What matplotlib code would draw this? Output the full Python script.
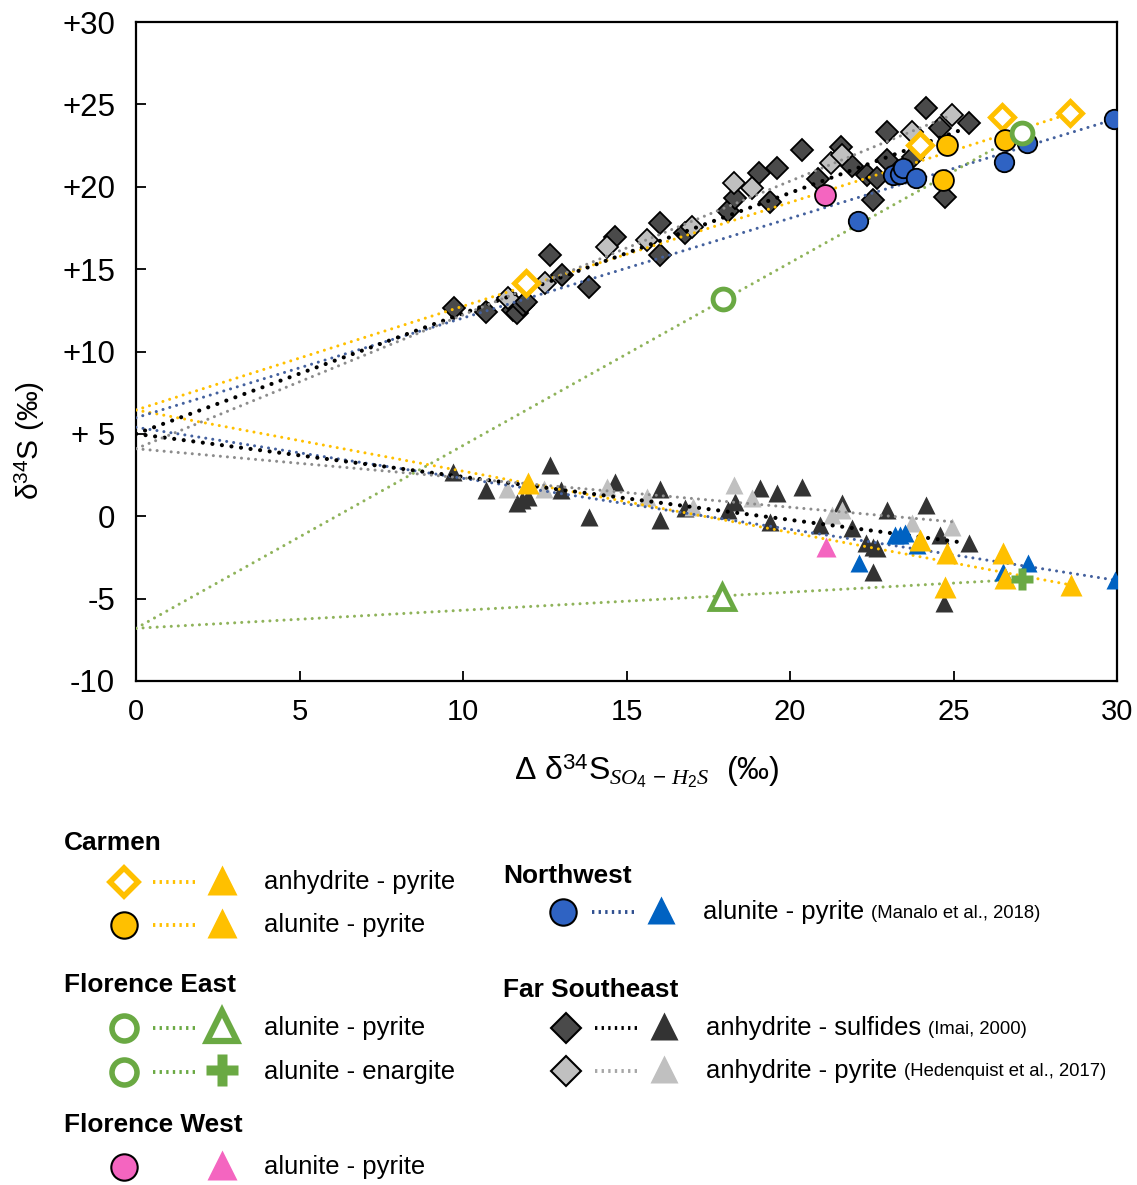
import numpy as np
import matplotlib.pyplot as plt
from matplotlib import font_manager

plt.rcParams['font.family'] = ['Liberation Sans', 'DejaVu Sans']
plt.rcParams['mathtext.fontset'] = 'custom'
plt.rcParams['mathtext.rm'] = 'Liberation Sans'
plt.rcParams['mathtext.it'] = 'Liberation Serif:italic'
plt.rcParams['mathtext.bf'] = 'Liberation Sans:bold'

names = {f.name for f in font_manager.fontManager.ttflist}
HAS_NARROW = 'Liberation Sans Narrow' in names
NARROW = ['Liberation Sans Narrow', 'Liberation Sans'] if HAS_NARROW else ['Liberation Sans']
NS = 1.0 if HAS_NARROW else 0.86   # size factor when narrow face is missing

# ---------------- data (x = Δδ34S SO4-H2S, y = δ34S) ----------------
# Far Southeast, Imai (2000): anhydrite and sulfides
imai_anh_x = [9.73, 10.7, 11.54, 11.64, 11.85, 11.93, 12.66, 13.02, 13.86, 14.65, 16.02, 16.02,
              16.79, 18.09, 18.32, 19.06, 19.39, 19.59, 20.36, 20.87, 21.55, 21.89, 22.34, 22.55,
              22.65, 22.98, 22.98, 23.77, 24.17, 24.59, 24.74, 25.48]
imai_anh_y = [12.62, 12.42, 12.52, 12.32, 12.82, 13.02, 15.86, 14.64, 13.93, 16.97, 17.78, 15.86,
              17.17, 18.53, 19.3, 20.85, 19.09, 21.12, 22.23, 20.47, 22.43, 21.26, 20.71, 19.2,
              20.51, 23.34, 21.62, 21.82, 24.76, 23.55, 19.4, 23.85]
imai_sul_x = [9.7, 10.7, 11.64, 11.8, 12.0, 12.66, 12.99, 13.86, 14.65, 16.02, 16.02, 16.79,
              18.11, 18.32, 19.08, 19.39, 19.61, 20.38, 20.92, 21.58, 21.89, 22.32, 22.55, 22.65,
              22.55, 22.98, 24.17, 24.59, 24.72, 25.48]
imai_sul_y = [2.71, 1.59, 0.79, 1.0, 1.15, 3.11, 1.59, -0.03, 2.1, 1.68, -0.24, 0.48,
              0.38, 0.88, 1.7, -0.33, 1.43, 1.79, -0.53, 0.79, -0.73, -1.64, -1.85, -1.95,
              -3.36, 0.38, 0.68, -1.14, -5.28, -1.64]

# Far Southeast, Hedenquist et al. (2017): anhydrite - pyrite
hed_anh_x = [11.39, 12.51, 14.39, 15.62, 16.99, 18.3, 18.83, 21.25, 21.6, 23.72, 24.94]
hed_anh_y = [13.23, 14.14, 16.36, 16.77, 17.57, 20.21, 19.94, 21.42, 21.93, 23.34, 24.35]
hed_py_x = [11.36, 12.48, 14.39, 15.62, 17.02, 18.3, 18.83, 21.28, 21.58, 23.74, 24.94]
hed_py_y = [1.63, 1.63, 1.79, 1.19, 0.58, 1.9, 1.09, 0.08, 0.38, -0.43, -0.67]

# Northwest (Manalo et al., 2018): alunite - pyrite
nw_alu_x = [29.92, 26.54, 27.24, 22.09, 23.16, 23.36, 23.47, 23.85]
nw_alu_y = [24.09, 21.52, 22.64, 17.94, 20.71, 20.77, 21.12, 20.51]
nw_py_x = [29.94, 27.29, 22.12, 23.21, 23.36, 23.52, 23.87, 26.52]
nw_py_y = [-3.87, -2.86, -2.86, -1.14, -1.14, -1.04, -1.75, -3.36]

# Carmen
car_anh_x = [11.93, 23.98, 26.47, 28.56]
car_anh_y = [14.14, 22.53, 24.25, 24.46]
car_anh_py_x = [12.0, 23.98, 26.5, 28.59]
car_anh_py_y = [1.99, -1.44, -2.25, -4.17]
car_alu_x = [24.79, 26.57, 24.69]
car_alu_y = [22.53, 22.84, 20.41]
car_alu_py_x = [24.79, 26.57, 24.74]
car_alu_py_y = [-2.25, -3.77, -4.28]

# Florence East
fe_alu_x = [17.96, 27.08]
fe_alu_y = [13.17, 23.24]
fe_py_x = [17.92]
fe_py_y = [-4.9]
fe_en_x = [27.08]
fe_en_y = [-3.83]

# Florence West
fw_alu_x = [21.07]
fw_alu_y = [19.5]
fw_py_x = [21.09]
fw_py_y = [-1.85]

# trend lines: (from x=0 to x_end)
trend_color = ['#FFC000', '#44619E', 'black', '#8C8C8C', '#8FB35A']
trend_x_end = [28.59, 29.92, 25.3, 24.94, 27.08]
upper_icpt = [6.45, 5.98, 5.0, 4.1, -6.8]
upper_end = [24.46, 24.09, 23.5, 24.35, 23.24]
lower_icpt = [6.45, 5.4, 5.0, 4.1, -6.8]
lower_end = [-4.17, -3.87, -1.6, -0.33, -3.83]
trend_lw = [2.2, 2.2, 3.0, 2.2, 2.2]

x_ticks = [0, 5, 10, 15, 20, 25, 30]
y_ticks = [-10, -5, 0, 5, 10, 15, 20, 25, 30]
y_tick_labels = ['-10', '-5', '0', '+ 5', '+10', '+15', '+20', '+25', '+30']

YEL = '#FFC000'
BLUE_C = '#2F63C3'
BLUE_T = '#0062C2'
DARK = '#4A4A4A'
DARK_T = '#333333'
LIGHT = '#C0C0C0'
GREEN = '#6AA943'
PINK = '#F465C0'

W, H = 1137, 1185
fig = plt.figure(figsize=(W / 100, H / 100), dpi=100)
ax = fig.add_axes([136 / W, 1 - 681 / H, 981 / W, 659 / H])
ax.set_xlim(0, 30)
ax.set_ylim(-10, 30)

# markers
ax.plot(imai_anh_x, imai_anh_y, 'D', ms=11.5, mfc=DARK, mec='black', mew=1.3, ls='none', zorder=2)
ax.plot(hed_anh_x, hed_anh_y, 'D', ms=11.5, mfc=LIGHT, mec='black', mew=1.3, ls='none', zorder=2.1)
ax.plot(imai_sul_x, imai_sul_y, '^', ms=13, mfc=DARK_T, mec='none', ls='none', zorder=2)
ax.plot(hed_py_x, hed_py_y, '^', ms=13, mfc=LIGHT, mec='none', ls='none', zorder=2.1)

for c, xe, ui, ue, li, le, lw in zip(trend_color, trend_x_end, upper_icpt, upper_end,
                                     lower_icpt, lower_end, trend_lw):
    ax.plot([0, xe], [ui, ue], color=c, lw=lw, ls=(0, (0.01, 2.3)),
            dash_capstyle='round', zorder=3)
    ax.plot([0, xe], [li, le], color=c, lw=lw, ls=(0, (0.01, 2.3)),
            dash_capstyle='round', zorder=3)

ax.plot(nw_alu_x, nw_alu_y, 'o', ms=14, mfc=BLUE_C, mec='black', mew=1.3, ls='none', zorder=4)
ax.plot(nw_py_x, nw_py_y, '^', ms=13, mfc=BLUE_T, mec='none', ls='none', zorder=4)
ax.plot(fw_alu_x, fw_alu_y, 'o', ms=15, mfc=PINK, mec='black', mew=1.3, ls='none', zorder=4)
ax.plot(fw_py_x, fw_py_y, '^', ms=15, mfc=PINK, mec='none', ls='none', zorder=4)
ax.plot(car_anh_x, car_anh_y, 'D', ms=12, mfc='white', mec=YEL, mew=3.5, ls='none', zorder=4.5)
ax.plot(car_alu_x, car_alu_y, 'o', ms=15, mfc=YEL, mec='black', mew=1.3, ls='none', zorder=4.5)
ax.plot(car_anh_py_x, car_anh_py_y, '^', ms=16, mfc=YEL, mec='none', ls='none', zorder=4.5)
ax.plot(car_alu_py_x, car_alu_py_y, '^', ms=16, mfc=YEL, mec='none', ls='none', zorder=4.5)
ax.plot(fe_alu_x, fe_alu_y, 'o', ms=15, mfc='white', mec=GREEN, mew=3.5, ls='none', zorder=4.6)
ax.plot(fe_py_x, fe_py_y, '^', ms=17, mfc='white', mec=GREEN, mew=3.5, ls='none', zorder=4.6)
ax.plot(fe_en_x, fe_en_y, 'P', ms=16, mfc=GREEN, mec='none', ls='none', zorder=4.6)

# axes styling
for s in ax.spines.values():
    s.set_linewidth(1.6)
ax.set_xticks(x_ticks)
ax.set_yticks(y_ticks)
ax.set_yticklabels(y_tick_labels)
ax.tick_params(direction='in', length=7, width=1.3)
ax.tick_params(axis='y', pad=15, labelsize=22.5)
ax.tick_params(axis='x', pad=12, labelsize=21)
for t in ax.get_xticklabels():
    t.set_family(NARROW)

fig.text(30 / W, 1 - 440 / H, 'δ$^{34}$S (‰)', rotation=90, ha='center', va='center',
         fontsize=21.5)
fig.text(647 / W, 1 - 771 / H, 'Δ δ$^{34}$S$_{SO_4\\,-\\,H_2S}$  (‰)', ha='center',
         va='center', fontsize=23, family=NARROW)

# ---------------- legend (pixel coordinates overlay) ----------------
lax = fig.add_axes([0, 0, 1, 1])
lax.set_xlim(0, W)
lax.set_ylim(H, 0)
lax.axis('off')
lax.patch.set_alpha(0)
renderer = fig.canvas.get_renderer()

HEAD_FS = 22 * NS
ROW_FS = 21.5 * NS
CITE_FS = 15.5 * NS


def header(x, y, txt):
    lax.text(x, y, txt, fontsize=HEAD_FS, weight='bold', family=NARROW, ha='left', va='center')


def row(y, xm, m1, m2, line_c, label, cite=None):
    mk, kw = m1
    lax.plot([xm], [y], mk, ls='none', **kw)
    if line_c is not None:
        lax.plot([xm + 29, xm + 73], [y, y], color=line_c, lw=2.8, ls=(0, (0.6, 1.1)))
    mk, kw = m2
    lax.plot([xm + 98], [y - 2], mk, ls='none', **kw)
    t = lax.text(xm + 140, y, label, fontsize=ROW_FS, family=NARROW, ha='left', va='center')
    if cite:
        bb = t.get_window_extent(renderer)
        lax.text(bb.x1 + 7, y + 1, cite, fontsize=CITE_FS, family=NARROW, ha='left', va='center')


tri = lambda c, ms=22: ('^', dict(ms=ms, mfc=c, mec='none'))
circ = lambda c: ('o', dict(ms=19, mfc=c, mec='black', mew=1.5))
ring = ('o', dict(ms=18, mfc='white', mec=GREEN, mew=4))
odia = ('D', dict(ms=14, mfc='white', mec=YEL, mew=4))
dia = lambda c: ('D', dict(ms=15, mfc=c, mec='black', mew=1.5))

header(64, 843, 'Carmen')
row(882, 124, odia, tri(YEL), YEL, 'anhydrite - pyrite')
row(925, 124, circ(YEL), tri(YEL), YEL, 'alunite - pyrite')
header(64, 985, 'Florence East')
row(1028, 124, ring, ('^', dict(ms=21, mfc='white', mec=GREEN, mew=4.5)), GREEN, 'alunite - pyrite')
row(1072, 124, ring, ('P', dict(ms=23, mfc=GREEN, mec='none')), GREEN, 'alunite - enargite')
header(64, 1125, 'Florence West')
row(1167, 124, circ(PINK), tri(PINK), None, 'alunite - pyrite')

header(503, 876, 'Northwest')
row(912, 563, circ(BLUE_C), tri(BLUE_T, 20), '#2F4F8F', 'alunite - pyrite', '(Manalo et al., 2018)')
header(503, 990, 'Far Southeast')
row(1028, 566, dia(DARK), tri(DARK_T, 20), 'black', 'anhydrite - sulfides', '(Imai, 2000)')
row(1071, 566, dia(LIGHT), tri(LIGHT, 20), '#A6A6A6', 'anhydrite - pyrite', '(Hedenquist et al., 2017)')

plt.savefig('out.png', dpi=100)
